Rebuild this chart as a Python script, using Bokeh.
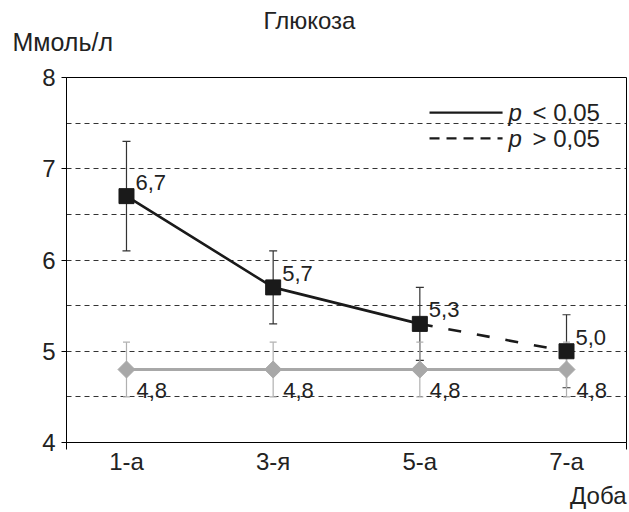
from bokeh.plotting import figure
from bokeh.models import Range1d, FixedTicker, Label, ColumnDataSource, Title, LinearAxis
from bokeh.core.properties import value
from bokeh.embed import file_html
from bokeh.resources import INLINE

# ---- data ----
categories = ["1-а", "3-я", "5-а", "7-а"]
x_pos = [0, 1, 2, 3]
treated = [6.7, 5.7, 5.3, 5.0]
treated_err = [0.6, 0.4, 0.4, 0.4]
treated_labels = ["6,7", "5,7", "5,3", "5,0"]
control = [4.8, 4.8, 4.8, 4.8]
control_err = [0.3, 0.3, 0.3, 0.3]
control_labels = ["4,8", "4,8", "4,8", "4,8"]
y_ticks = [4, 5, 6, 7, 8]
grid_lines = [4.5, 5, 5.5, 6, 6.5, 7, 7.5]
chart_title = "Глюкоза"
title_pos = 1.248          # horizontal centre of the title, in category units

FONT = "Liberation Sans"
TXT = "#222222"
BLACK = "#1a1a1a"
GRAY = "#a8a8a8"

p = figure(width=629, height=512, output_backend="svg", toolbar_location=None,
           x_range=Range1d(-0.409, 3.409), y_range=Range1d(4, 8),
           min_border_left=66, min_border_right=3, min_border_top=77, min_border_bottom=70)
p.background_fill_color = "white"
p.border_fill_color = "white"
p.outline_line_color = "black"
p.outline_line_width = 1
p.title.text = ""

# "above" panel, stacked from the frame outwards: spacer, unit title, chart title (axis label)
p.add_layout(Title(text=" ", standoff=0, text_font=FONT, text_font_size="17.5px"), "above")
p.add_layout(Title(text="Ммоль/л", align="left", offset=-54, standoff=0,
                   text_font=FONT, text_font_size="25px", text_font_style="normal",
                   text_color=TXT), "above")
top_axis = LinearAxis(ticker=FixedTicker(ticks=[title_pos]),
                      major_label_overrides={title_pos: chart_title},
                      axis_line_color=None, major_tick_line_color=None,
                      minor_tick_line_color=None, major_tick_out=0, major_tick_in=0,
                      minor_tick_out=0, minor_tick_in=0, major_label_standoff=-8,
                      major_label_text_font=FONT, major_label_text_font_size="24px",
                      major_label_text_color=TXT)
p.add_layout(top_axis, "above")

p.add_layout(Title(text="Доба", align="right", offset=0, standoff=4,
                   text_font=FONT, text_font_size="24px", text_font_style="normal",
                   text_color=TXT), "below")

# axes
p.yaxis.ticker = FixedTicker(ticks=y_ticks)
p.yaxis.major_tick_out = 5
p.yaxis.major_tick_in = 0
p.yaxis.minor_tick_out = 0
p.yaxis.minor_tick_in = 0
p.yaxis.major_label_standoff = 6
p.yaxis.major_label_text_font = FONT
p.yaxis.major_label_text_font_size = "24px"
p.yaxis.major_label_text_color = TXT
p.yaxis.axis_line_color = "black"
p.yaxis.major_tick_line_color = "black"

xa = p.below[0]
xa.ticker = FixedTicker(ticks=x_pos, minor_ticks=[-0.409, 3.409])
xa.major_label_overrides = {x: c for x, c in zip(x_pos, categories)}
xa.major_tick_out = 0
xa.major_tick_in = 0
xa.minor_tick_out = 7
xa.minor_tick_in = 0
xa.minor_tick_line_color = "black"
xa.major_label_standoff = -2
xa.major_label_text_font = FONT
xa.major_label_text_font_size = "24px"
xa.major_label_text_color = TXT
xa.axis_line_color = "black"

p.xgrid.visible = False
p.ygrid.ticker = FixedTicker(ticks=grid_lines)
p.ygrid.grid_line_color = "#333333"
p.ygrid.grid_line_dash = "5 4"
p.ygrid.grid_line_width = 1

t_src = ColumnDataSource(dict(
    x=x_pos, y=treated,
    lo=[v - e for v, e in zip(treated, treated_err)],
    hi=[v + e for v, e in zip(treated, treated_err)],
    lab=treated_labels))
c_src = ColumnDataSource(dict(
    x=x_pos, y=control,
    lo=[v - e for v, e in zip(control, control_err)],
    hi=[v + e for v, e in zip(control, control_err)],
    lab=control_labels))

# treated error bars
p.segment(x0="x", y0="lo", x1="x", y1="hi", source=t_src, line_color="#333333", line_width=1.2)
p.scatter(x="x", y="lo", source=t_src, marker="dash", size=8, line_color="#333333", line_width=1.2)
p.scatter(x="x", y="hi", source=t_src, marker="dash", size=8, line_color="#333333", line_width=1.2)

# treated lines
p.line(x_pos[:3], treated[:3], line_color=BLACK, line_width=2.6)
p.line(x_pos[2:], treated[2:], line_color=BLACK, line_width=2.6, line_dash="13 16")

# control error bars
p.segment(x0="x", y0="lo", x1="x", y1="hi", source=c_src, line_color="#b0b0b0", line_width=1.2)
p.scatter(x="x", y="lo", source=c_src, marker="dash", size=7, line_color="#b0b0b0", line_width=1.2)
p.scatter(x="x", y="hi", source=c_src, marker="dash", size=7, line_color="#b0b0b0", line_width=1.2)

# control line + diamonds
p.line(x_pos, control, line_color=GRAY, line_width=3)
p.scatter(x="x", y="y", source=c_src, marker="square", angle=0.785398, size=12,
          fill_color=GRAY, line_color=GRAY)

# treated squares
p.scatter(x="x", y="y", source=t_src, marker="square", size=15, fill_color=BLACK, line_color=BLACK)

# value labels
p.text(x="x", y="y", text="lab", source=t_src, x_offset=9, y_offset=-14,
       text_font=value(FONT), text_font_size="22px", text_color=TXT,
       text_baseline="alphabetic", text_align="left")
p.text(x="x", y="y", text="lab", source=c_src, x_offset=10, y_offset=21,
       text_font=value(FONT), text_font_size="22px", text_color=TXT,
       text_baseline="alphabetic", text_align="left")

# legend (drawn manually to allow italic p)
leg_x0, leg_x1 = 2.066, 2.564
leg_y1, leg_y2 = 7.616, 7.332
p.segment(x0=[leg_x0], y0=[leg_y1], x1=[leg_x1], y1=[leg_y1], line_color=BLACK, line_width=2.2)
p.segment(x0=[leg_x0], y0=[leg_y2], x1=[leg_x1], y1=[leg_y2], line_color=BLACK, line_width=2.2,
          line_dash="10 7")
for yy, s in [(leg_y1, "< 0,05"), (leg_y2, "> 0,05")]:
    p.add_layout(Label(x=2.604, y=yy, text="p", text_font=FONT, text_font_size="24px",
                       text_font_style="italic", text_color=TXT, text_baseline="middle"))
    p.add_layout(Label(x=2.768, y=yy, text=s, text_font=FONT, text_font_size="24px",
                       text_color=TXT, text_baseline="middle"))

open("out.html", "w").write(file_html(p, INLINE))
